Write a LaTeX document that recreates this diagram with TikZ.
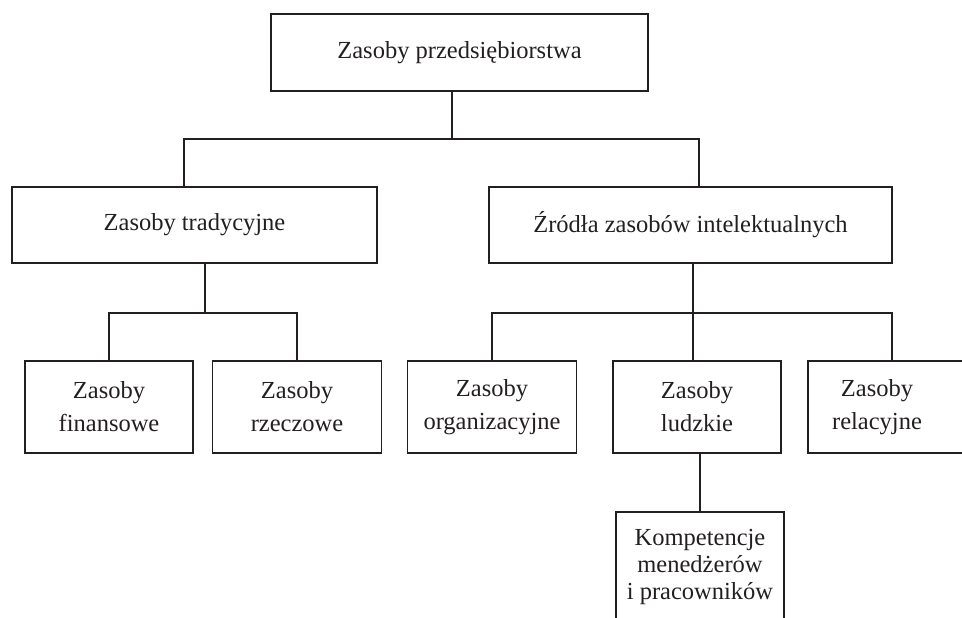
\documentclass[tikz,border=0pt]{standalone}
\usepackage{fontspec}
\setmainfont{Liberation Serif}
\definecolor{ink}{HTML}{231F20}
\begin{document}
\begin{tikzpicture}[x=1pt,y=1pt,
  box/.style={draw=ink, line width=1.3pt, inner sep=0pt, text=ink,
              font=\fontsize{24.5}{33}\selectfont, align=center},
  lbl/.style={inner sep=0pt, text=ink, font=\fontsize{24.5}{33}\selectfont, align=center},
  link/.style={draw=ink, line width=1.3pt}]
\useasboundingbox (0,0) rectangle (962,-618);
\clip (0,0) rectangle (962,-618);
% level 1
\node[box, minimum width=377pt, minimum height=77pt] (top) at (459.5,-52.5) {Zasoby przedsiębiorstwa};
% level 2
\node[box, minimum width=365pt, minimum height=76pt] (trad) at (194.5,-225) {Zasoby tradycyjne};
\node[box, minimum width=403pt, minimum height=76pt] (intel) at (690.5,-225) {Źródła zasobów intelektualnych};
% level 3
\node[box, minimum width=168pt, minimum height=92pt] (fin) at (109,-407) {Zasoby\\finansowe};
\node[box, minimum width=169pt, minimum height=92pt] (rze) at (297,-407) {Zasoby\\rzeczowe};
\node[box, minimum width=169pt, minimum height=92pt] (org) at (492,-407) {Zasoby\\organizacyjne};
\node[box, minimum width=168pt, minimum height=92pt] (lud) at (697,-407) {Zasoby\\ludzkie};
\node[box, minimum width=168pt, minimum height=92pt] (rel) at (892,-407) {};
\node[lbl] (relt) at (877,-407) {Zasoby\\relacyjne};
% level 4
\node[box, minimum width=168pt, minimum height=110pt, font=\fontsize{24.5}{27}\selectfont] (komp) at (700,-567) {Kompetencje\\menedżerów\\i pracowników};
% bus coordinates
\coordinate (b1) at (452,-139);
\coordinate (b1l) at (184,-139);
\coordinate (b1r) at (699,-139);
\coordinate (b2) at (205,-313);
\coordinate (b3) at (693,-313);
% connectors
\draw[link] (top.south -| b1) -- (b1);
\draw[link] (trad.north -| b1l) -- (b1l) -- (b1r) -- (intel.north -| b1r);
\draw[link] (trad.south -| b2) -- (b2);
\draw[link] (fin.north) |- (b2) -| (rze.north);
\draw[link] (intel.south -| b3) -- (b3);
\draw[link] (org.north) |- (b3) -| (rel.north);
\draw[link] (lud.north -| b3) -- (b3);
\draw[link] (komp.north) -- (komp.north |- lud.south);
\end{tikzpicture}
\end{document}
